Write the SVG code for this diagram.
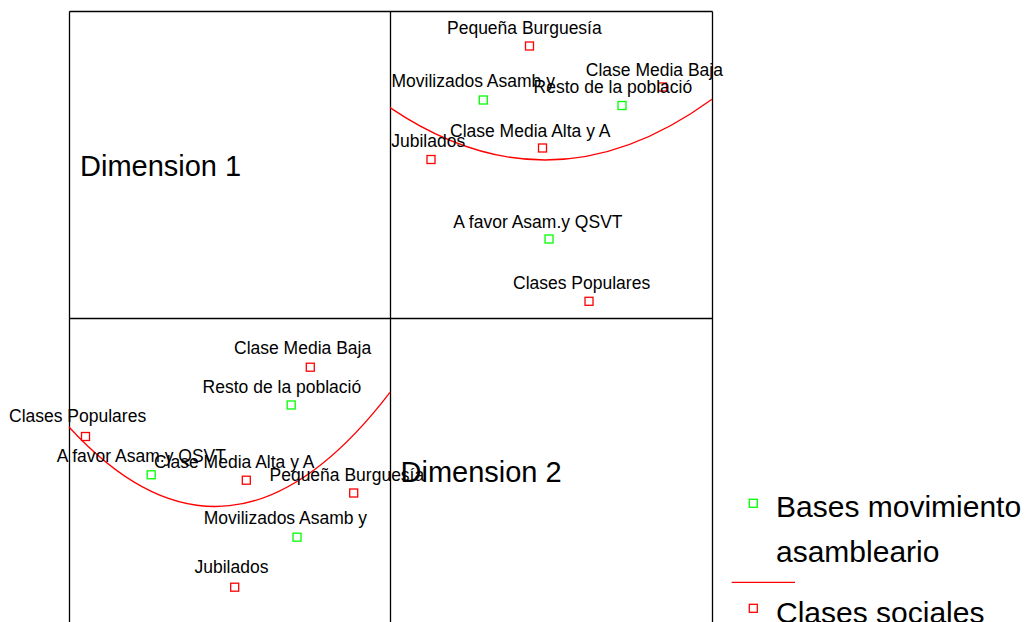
<svg xmlns="http://www.w3.org/2000/svg" width="1029" height="622" viewBox="0 0 1029 622">
<style>
.bg{fill:#fff}
.grid{stroke:#000;stroke-width:1.3;fill:none}
.lbl{font-family:"Liberation Sans",Arial,sans-serif;font-size:17.5px;fill:#000}
.dim{font-family:"Liberation Sans",Arial,sans-serif;font-size:29px;fill:#000}
.leg{font-family:"Liberation Sans",Arial,sans-serif;font-size:30px;fill:#000}
.g{fill:none;stroke:#00ff00;stroke-width:1.3}
.r{fill:none;stroke:#ff0000;stroke-width:1.3}
.curve{fill:none;stroke:#ff0000;stroke-width:1.3}
</style>
<rect class="bg" x="0" y="0" width="1029" height="622"/>
<g id="grid">
<path class="grid" d="M69.5,11.5V622M390.5,11.5V622M712.5,11.5V622M69.5,11.5H712.5M69.5,318.5H712.5"/>
<text class="dim" x="80" y="176.3">Dimension 1</text>
<text class="dim" x="400.5" y="481.7">Dimension 2</text>
</g>
<g id="connectors">
<path class="curve" d="M390,107.6 Q551,216.4 712,99.2"/>
<path class="curve" d="M69,427 Q229.5,601.8 390,392.3"/>
</g>
<g id="tr-pb"><rect class="r" x="525.5" y="42" width="8" height="8"/><text class="lbl" x="447" y="33.5">Pequeña Burguesía</text></g>
<g id="tr-ma"><rect class="g" x="479.3" y="96" width="8" height="8"/><text class="lbl" x="391.5" y="87.3">Movilizados Asamb y</text></g>
<g id="tr-cmb"><rect class="r" x="658.5" y="83" width="8" height="8"/><text class="lbl" x="585.8" y="76">Clase Media Baja</text></g>
<g id="tr-rp"><rect class="g" x="618" y="101.5" width="8" height="8"/><text class="lbl" x="533.6" y="92.7">Resto de la població</text></g>
<g id="tr-cma"><rect class="r" x="538.5" y="144" width="8" height="8"/><text class="lbl" x="450" y="136.7">Clase Media Alta y A</text></g>
<g id="tr-jub"><rect class="r" x="427" y="155.5" width="8" height="8"/><text class="lbl" x="391.2" y="146.7">Jubilados</text></g>
<g id="tr-af"><rect class="g" x="545" y="235" width="8" height="8"/><text class="lbl" x="453.3" y="228.3">A favor Asam.y QSVT</text></g>
<g id="tr-cp"><rect class="r" x="585" y="297.3" width="8" height="8"/><text class="lbl" x="513" y="289">Clases Populares</text></g>
<g id="bl-cmb"><rect class="r" x="306.3" y="363.2" width="8" height="8"/><text class="lbl" x="234" y="354.3">Clase Media Baja</text></g>
<g id="bl-rp"><rect class="g" x="287.2" y="401" width="8" height="8"/><text class="lbl" x="202.6" y="393.3">Resto de la població</text></g>
<g id="bl-cp"><rect class="r" x="81.5" y="432.5" width="8" height="8"/><text class="lbl" x="9" y="422.3">Clases Populares</text></g>
<g id="bl-af"><rect class="g" x="147.2" y="470.8" width="8" height="8"/><text class="lbl" x="56.7" y="461.7">A favor Asam.y QSVT</text></g>
<g id="bl-cma"><rect class="r" x="242.3" y="476.2" width="8" height="8"/><text class="lbl" x="154" y="467.7">Clase Media Alta y A</text></g>
<g id="bl-pb"><rect class="r" x="349.7" y="489" width="8" height="8"/><text class="lbl" x="269.5" y="481">Pequeña Burguesía</text></g>
<g id="bl-ma"><rect class="g" x="293" y="533.2" width="8" height="8"/><text class="lbl" x="203.7" y="524.3">Movilizados Asamb y</text></g>
<g id="bl-jub"><rect class="r" x="230.7" y="583.2" width="8" height="8"/><text class="lbl" x="194.5" y="573.3">Jubilados</text></g>
<g id="legend">
<rect class="g" x="749.3" y="499.3" width="8" height="8"/>
<text class="leg" x="776" y="517.3">Bases movimiento</text>
<text class="leg" x="776" y="561.7">asambleario</text>
<line class="curve" x1="731.7" y1="582.3" x2="795" y2="582.3"/>
<rect class="r" x="749.3" y="604.3" width="8" height="8"/>
<text class="leg" x="776" y="622.5">Clases sociales</text>
</g>
</svg>
